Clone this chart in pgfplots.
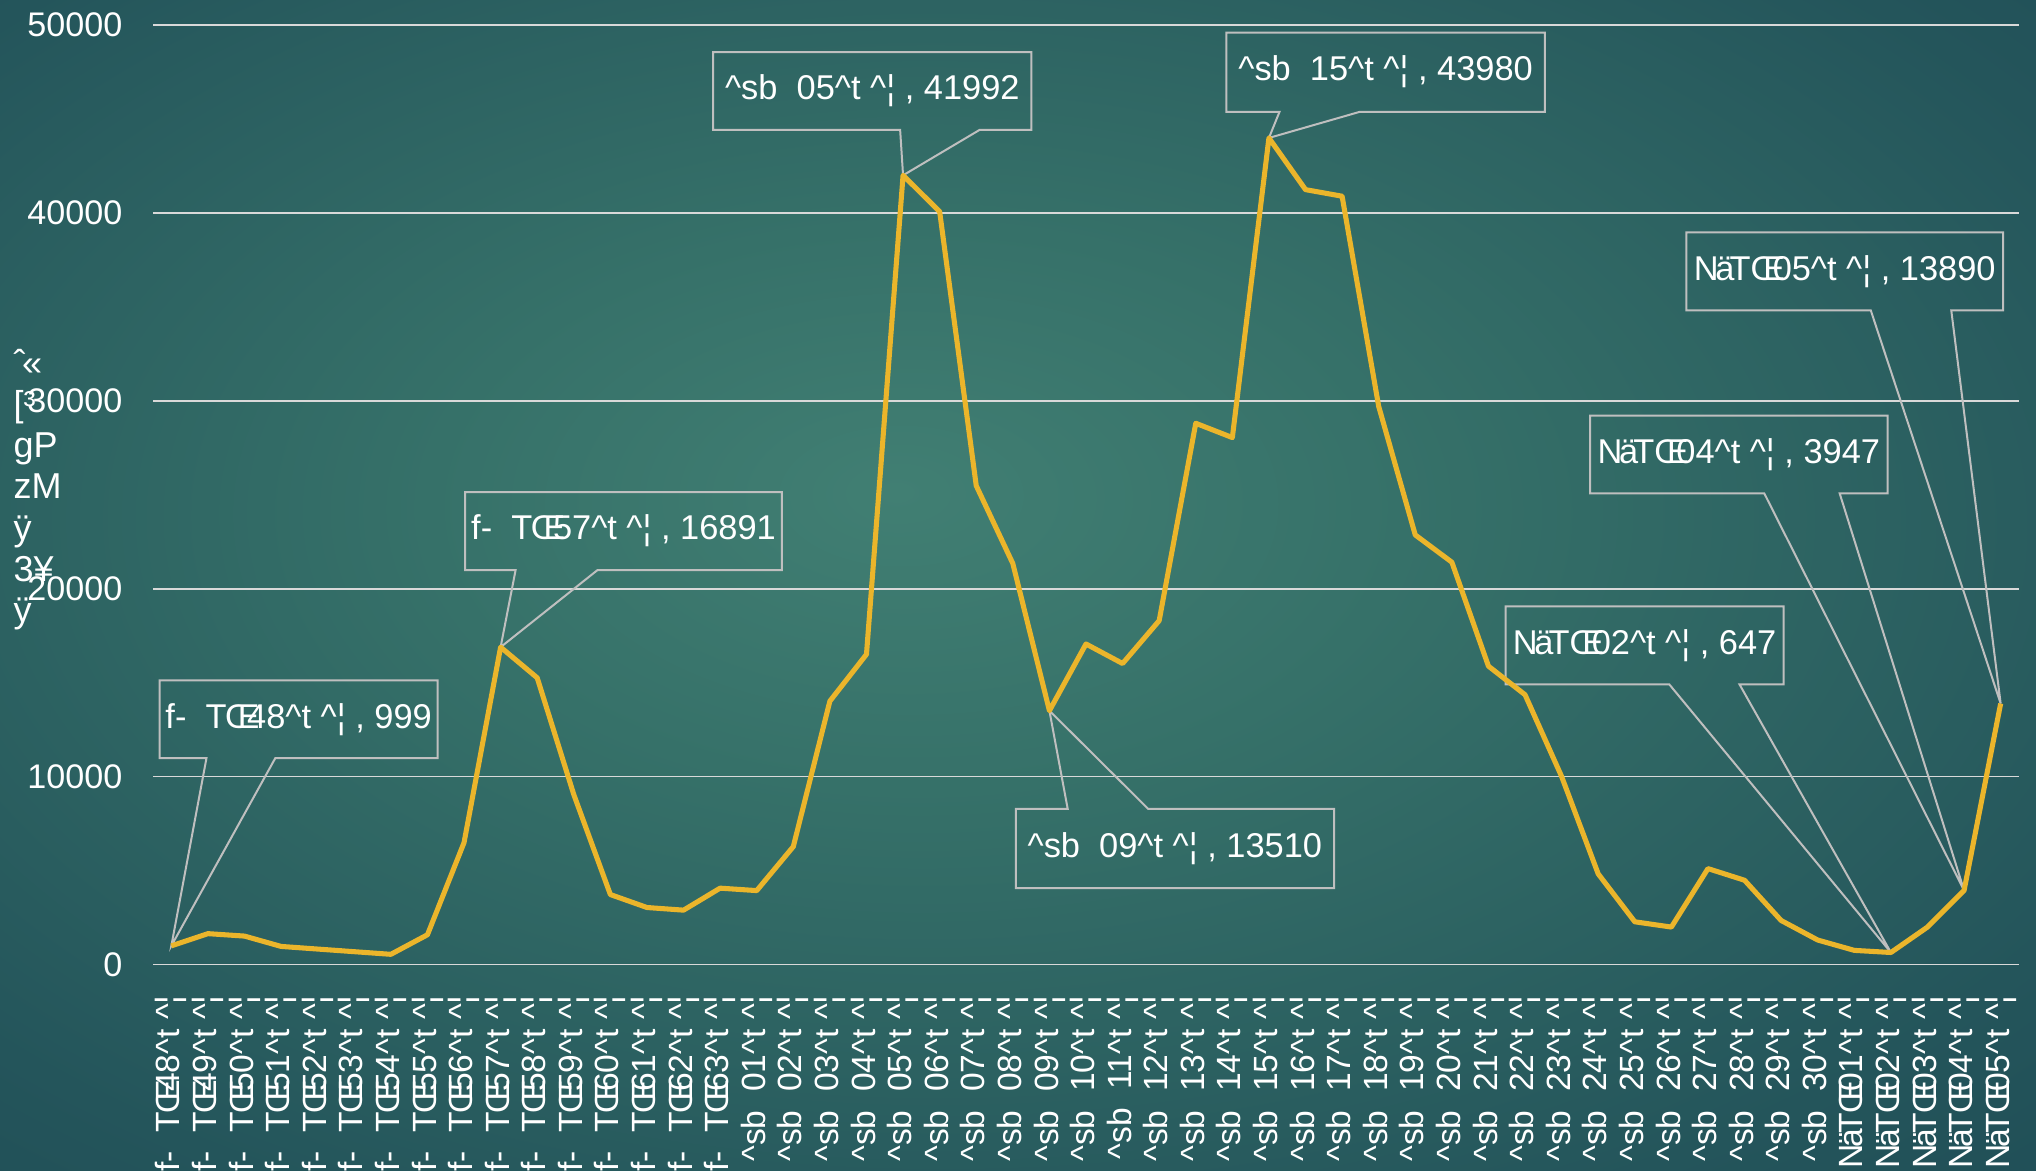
\documentclass[border=0pt]{standalone}
\usepackage{fontspec}
\setmainfont{Liberation Sans}
\usepackage{pgfplots}
\pgfplotsset{compat=1.18}
\usetikzlibrary{calc}

\definecolor{bgA}{HTML}{417F73}
\definecolor{bgB}{HTML}{367169}
\definecolor{bgC}{HTML}{24555B}
\definecolor{bgD}{HTML}{1A4450}
\definecolor{bgE}{HTML}{113044}
\definecolor{gold}{HTML}{EBB52B}
\definecolor{boxline}{HTML}{BFBFBF}
\definecolor{gridc}{HTML}{D9D9D9}

\pgfdeclareradialshading{bgshade}{\pgfpoint{-3bp}{4bp}}{%
  color(0bp)=(bgA); color(12bp)=(bgB); color(32bp)=(bgC);
  color(50bp)=(bgD); color(71bp)=(bgE)}
\pgfdeclarelayer{background}
\pgfsetlayers{background,main}

\newcommand\CC{\textasciicircum{}}
\newcommand\fl[1]{f-~ T\kern-.04emŒ\kern-.36em#1\CC t \CC¦}
\newcommand\sbl[1]{\CC sb~ #1\CC t \CC¦}
\newcommand\nl[1]{N\kern-.1emä\kern-.14emTŒ\kern-.36em#1\CC t \CC¦}

% callout with the pointer below the box
\newcommand\callout[9]{%
  \draw[boxline, line width=0.75pt]
    (axis cs:#1,#4) -- (axis cs:#2,#4) -- (axis cs:#2,#3) -- (axis cs:#6,#3)
    -- (axis cs:#7,#8) -- (axis cs:#5,#3) -- (axis cs:#1,#3) -- cycle;
  \node[text=white, font=\fontsize{12.9}{15}\selectfont]
    at (axis cs:{(#1+#2)/2},{(#3+#4)/2}) {#9};}

\begin{document}
\begin{tikzpicture}
\begin{axis}[
    scale only axis,
    width=699.8pt, height=352.5pt,
    xmin=-0.5, xmax=50.5,
    ymin=0, ymax=50000,
    ytick={0,10000,...,50000},
    scaled y ticks=false,
    ymajorgrids,
    grid style={gridc, line width=0.6pt},
    axis line style={draw=none},
    tick style={draw=none},
    xtick={0,...,50},
    xticklabels={\fl{48},\fl{49},\fl{50},\fl{51},\fl{52},\fl{53},\fl{54},\fl{55},
      \fl{56},\fl{57},\fl{58},\fl{59},\fl{60},\fl{61},\fl{62},\fl{63},
      \sbl{01},\sbl{02},\sbl{03},\sbl{04},\sbl{05},\sbl{06},\sbl{07},\sbl{08},
      \sbl{09},\sbl{10},\sbl{11},\sbl{12},\sbl{13},\sbl{14},\sbl{15},\sbl{16},
      \sbl{17},\sbl{18},\sbl{19},\sbl{20},\sbl{21},\sbl{22},\sbl{23},\sbl{24},
      \sbl{25},\sbl{26},\sbl{27},\sbl{28},\sbl{29},\sbl{30},
      \nl{01},\nl{02},\nl{03},\nl{04},\nl{05}},
    x tick label style={rotate=90, anchor=east, text=white,
      font=\fontsize{12.6}{15}\selectfont},
    y tick label style={text=white, font=\fontsize{12.8}{15}\selectfont},
    xticklabel shift=8pt,
    yticklabel shift=8pt,
    /pgf/number format/1000 sep={},
    /pgf/number format/assume math mode=true,
    clip=false,
]
\coordinate (sw) at (rel axis cs:0,0);
\coordinate (ne) at (rel axis cs:1,1);

\callout{-0.32}{7.28}{10981}{15124}{0.96}{2.84}{0}{999}{f-~ T\kern-.04emŒ\kern-.36em48\CC t \CC¦ , 999}
\callout{8.03}{16.69}{20994}{25138}{9.41}{11.65}{9}{16891}{f-~ T\kern-.04emŒ\kern-.36em57\CC t \CC¦ , 16891}
\callout{14.81}{23.51}{44406}{48550}{19.92}{22.09}{20}{41992}{\CC sb~ 05\CC t \CC¦ , 41992}
\callout{28.84}{37.54}{45373}{49586}{30.29}{32.49}{30}{43980}{\CC sb~ 15\CC t \CC¦ , 43980}
\callout{41.41}{50.07}{34807}{38950}{46.45}{48.65}{50}{13890}{N\kern-.1emä\kern-.14emTŒ\kern-.36em05\CC t \CC¦ , 13890}
\callout{38.78}{46.91}{25069}{29213}{43.54}{45.60}{49}{3947}{N\kern-.1emä\kern-.14emTŒ\kern-.36em04\CC t \CC¦ , 3947}
\callout{36.47}{44.07}{14917}{19061}{40.94}{42.86}{47}{647}{N\kern-.1emä\kern-.14emTŒ\kern-.36em02\CC t \CC¦ , 647}
% the 13510 callout hangs below the line
\draw[boxline, line width=0.75pt]
  (axis cs:23.08,8287) -- (axis cs:24.50,8287) -- (axis cs:24,13510)
  -- (axis cs:26.70,8287) -- (axis cs:31.78,8287) -- (axis cs:31.78,4075)
  -- (axis cs:23.08,4075) -- cycle;
\node[text=white, font=\fontsize{12.9}{15}\selectfont]
  at (axis cs:27.43,6181) {\CC sb~ 09\CC t \CC¦ , 13510};

\addplot[gold, line width=1.9pt, line join=round] coordinates {
  (0,999) (1,1650) (2,1520) (3,970) (4,830) (5,690) (6,550) (7,1590)
  (8,6490) (9,16891) (10,15260) (11,9050) (12,3730) (13,3040) (14,2900) (15,4070)
  (16,3940) (17,6280) (18,14020) (19,16510) (20,41992) (21,40060) (22,25480) (23,21340)
  (24,13510) (25,17060) (26,16020) (27,18300) (28,28800) (29,28040) (30,43980) (31,41230)
  (32,40880) (33,29700) (34,22860) (35,21410) (36,15880) (37,14360) (38,10010) (39,4830)
  (40,2280) (41,2000) (42,5110) (43,4490) (44,2350) (45,1310) (46,760) (47,647)
  (48,2000) (49,3947) (50,13890)
};

\node[anchor=north west, align=left, text=white, inner sep=0pt,
      font=\fontsize{13.5}{15.4}\selectfont, xshift=-52.5pt]
  at (rel axis cs:0,0.655) {ˆ\kern-.1em«\\{[}³\\gP\\zM\\ÿ\\3¥\\ÿ};
\end{axis}
\pgfresetboundingbox
\path[use as bounding box] ($(sw)+(-57.4pt,-77.3pt)$) rectangle ($(ne)+(6.4pt,9.3pt)$);
\begin{pgfonlayer}{background}
\shade[shading=bgshade] ($(sw)+(-57.4pt,-77.3pt)$) rectangle ($(ne)+(6.4pt,9.3pt)$);
\end{pgfonlayer}
\end{tikzpicture}
\end{document}
